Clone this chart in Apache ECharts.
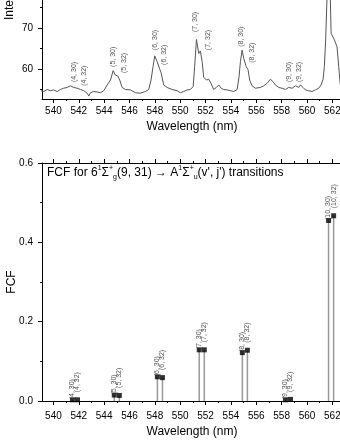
<!doctype html>
<html>
<head>
    <meta charset="utf-8" />
    <script src="https://cdn.jsdelivr.net/npm/echarts@6/dist/echarts.min.js"></script>
    <style>
        html, body { margin: 0; padding: 0; background: #fff; }
        #chart { width: 340px; height: 440px; }
    </style>
</head>
<body>
<div id="chart"></div>
<script>
// spectrum (top panel)
const specWl = [539.0, 539.24, 539.5, 539.76, 540.02, 540.29, 540.55, 540.81, 541.08, 541.34, 541.6, 541.87,
    542.13, 542.39, 542.66, 542.79, 542.92, 543.18, 543.45, 543.71, 543.97, 544.24, 544.5, 544.71, 544.89,
    545.07, 545.23, 545.42, 545.68, 546.07, 546.47, 546.86, 547.26, 547.52, 547.7, 547.86, 547.99, 548.18,
    548.36, 548.49, 548.7, 548.97, 549.36, 549.76, 550.02, 550.28, 550.54, 550.8, 551.02, 551.14, 551.28,
    551.46, 551.59, 551.73, 551.85, 552.07, 552.25, 552.43, 552.64, 552.85, 553.04, 553.23, 553.43, 553.7,
    553.96, 554.22, 554.49, 554.64, 554.75, 554.88, 555.01, 555.2, 555.35, 555.48, 555.67, 555.93, 556.06,
    556.32, 556.59, 556.85, 557.11, 557.32, 557.51, 557.77, 558.04, 558.3, 558.56, 558.82, 559.09, 559.35,
    559.48, 559.69, 559.87, 560.13, 560.4, 560.66, 560.92, 561.11, 561.27, 561.37, 561.47, 561.58, 561.7,
    561.82, 561.9, 562.16, 562.37, 562.5, 562.63, 562.8];
const specI = [54.7, 54.5, 55.0, 54.7, 54.9, 54.5, 55.0, 55.3, 55.5, 55.9, 55.5, 55.3,
    55.0, 54.7, 54.1, 53.4, 54.2, 54.5, 54.4, 54.2, 54.7, 56.1, 57.3, 59.6, 58.5,
    58.3, 57.3, 55.5, 55.0, 54.9, 54.2, 54.1, 54.5, 55.0, 57.3, 60.6, 63.2, 61.8,
    60.2, 59.1, 56.1, 55.5, 55.0, 54.7, 54.2, 54.5, 54.9, 55.0, 55.7, 60.6, 67.2,
    63.8, 64.4, 61.8, 58.0, 57.3, 57.5, 56.5, 55.0, 55.5, 56.1, 55.3, 55.0, 54.9,
    54.7, 54.5, 55.0, 58.1, 61.8, 64.6, 62.6, 60.6, 59.8, 57.3, 55.9, 55.3, 54.9,
    55.5, 55.9, 56.5, 57.5, 56.9, 56.1, 55.5, 55.3, 55.0, 55.5, 55.3, 55.9, 55.5,
    56.1, 55.5, 54.9, 54.7, 54.5, 54.9, 55.3, 56.1, 57.5, 60.6, 67.1, 77.5, 86.0,
    80.0, 68.7, 67.1, 65.4, 60.6, 56.1, 55.5];

// branch labels on the spectrum
const peakNames = ['(4, 30)', '(4, 32)', '(5, 30)', '(5, 32)', '(6, 30)', '(6, 32)',
    '(7, 30)', '(7, 32)', '(8, 30)', '(8, 32)', '(9, 30)', '(9, 32)'];
const peakWl = [541.66, 542.4, 544.7, 545.6, 548.05, 548.75, 551.2, 552.2, 554.8, 555.7, 558.6, 559.4];
const peakI = [56.8, 55.9, 60.5, 59.0, 64.6, 61.0, 69.0, 64.6, 65.4, 61.5, 56.8, 56.8];

// Franck-Condon factors (bottom panel)
const vPrime = [4, 5, 6, 7, 8, 9, 10];
const wl30 = [541.5, 544.8, 548.2, 551.5, 554.9, 558.3, 561.7];
const fcf30 = [0.003, 0.015, 0.061, 0.129, 0.122, 0.003, 0.455];
const wl32 = [541.9, 545.2, 548.6, 551.9, 555.3, 558.7, 562.1];
const fcf32 = [0.003, 0.014, 0.059, 0.129, 0.128, 0.004, 0.467];

// ticks
const wlMajor = [540, 542, 544, 546, 548, 550, 552, 554, 556, 558, 560, 562];
const wlMinor = [539, 541, 543, 545, 547, 549, 551, 553, 555, 557, 559, 561];
const intMajor = [60, 70, 80, 90];
const intMinor = [55, 65, 75, 85];

const FONT = 'Liberation Sans, Arial, sans-serif';
const WL_MIN = 539.1, WL_MAX = 562.76;

function majorX(grid, pos, showLabel, margin) {
    return {
        type: 'value', gridIndex: grid, position: pos, min: WL_MIN, max: WL_MAX,
        axisLine: { show: true, onZero: false, lineStyle: { color: '#000', width: 1 } },
        axisTick: { show: true, customValues: wlMajor, length: 4, lineStyle: { color: '#000' } },
        axisLabel: { show: showLabel, customValues: wlMajor, margin: margin, fontSize: 10, fontFamily: FONT, color: '#000' },
        splitLine: { show: false }
    };
}
function minorX(grid, pos) {
    return {
        type: 'value', gridIndex: grid, position: pos, min: WL_MIN, max: WL_MAX,
        axisLine: { show: false, onZero: false },
        axisTick: { show: true, customValues: wlMinor, length: 2, lineStyle: { color: '#000' } },
        axisLabel: { show: false },
        splitLine: { show: false }
    };
}
function withName(axis, gap) {
    axis.name = 'Wavelength (nm)';
    axis.nameLocation = 'middle';
    axis.nameGap = gap;
    axis.nameMoveOverlap = false;
    axis.nameTextStyle = { fontSize: 12, fontFamily: FONT, color: '#000' };
    return axis;
}

const labelStyle = {
    show: true, rotate: 90, align: 'left', verticalAlign: 'middle',
    fontSize: 7, fontFamily: FONT, color: '#222'
};

let options = {
    animation: false,
    backgroundColor: '#fff',
    grid: [
        { left: 42, top: -60, width: 300, height: 159, outerBoundsMode: 'none', containLabel: false },
        { left: 42, top: 163, width: 300, height: 238, outerBoundsMode: 'none', containLabel: false }
    ],
    xAxis: [
        withName(majorX(0, 'bottom', true, 7), 22),
        minorX(0, 'bottom'),
        withName(majorX(1, 'bottom', true, 10), 25),
        minorX(1, 'bottom'),
        majorX(1, 'top', false, 6),
        minorX(1, 'top')
    ],
    yAxis: [
        {
            type: 'value', gridIndex: 0, position: 'left', min: 52.68, max: 91.46,
            axisLine: { show: true, onZero: false, lineStyle: { color: '#000' } },
            axisTick: { show: true, customValues: intMajor, length: 4, lineStyle: { color: '#000' } },
            axisLabel: { customValues: intMajor, margin: 9, fontSize: 10, fontFamily: FONT, color: '#000' },
            splitLine: { show: false }
        },
        {
            type: 'value', gridIndex: 0, position: 'left', min: 52.68, max: 91.46,
            axisLine: { show: false, onZero: false },
            axisTick: { show: true, customValues: intMinor, length: 2, lineStyle: { color: '#000' } },
            axisLabel: { show: false },
            splitLine: { show: false }
        },
        {
            type: 'value', gridIndex: 1, position: 'left', min: 0, max: 0.6, interval: 0.2,
            name: 'FCF', nameLocation: 'middle', nameGap: 24, nameMoveOverlap: false,
            nameTextStyle: { fontSize: 12, fontFamily: FONT, color: '#000' },
            axisLine: { show: true, onZero: false, lineStyle: { color: '#000' } },
            axisTick: { show: true, length: 4, lineStyle: { color: '#000' } },
            minorTick: { show: true, splitNumber: 2, length: 2, lineStyle: { color: '#000' } },
            axisLabel: { margin: 9, fontSize: 10, fontFamily: FONT, color: '#000', formatter: v => v.toFixed(1) },
            splitLine: { show: false }
        }
    ],
    graphic: [
        {
            type: 'text', x: 10, y: 20, rotation: Math.PI / 2,
            style: { text: 'Intensity (a.u.)', font: '12px ' + FONT, fill: '#000', align: 'left', verticalAlign: 'middle' }
        },
        {
            type: 'text', left: 47, top: 165,
            style: {
                text: '{t|FCF for 6}{sup|1}{t|Σ}{sup|+}{sub|g}{t|(9, 31) → A}{sup|1}{t|Σ}{sup|+}{sub|u}{t|(v\', j\') transitions}',
                fill: '#000',
                rich: {
                    t: { fontSize: 12, fontFamily: FONT, lineHeight: 16, fill: '#000' },
                    sup: { fontSize: 7, fontFamily: FONT, lineHeight: 9, verticalAlign: 'top', fill: '#000' },
                    sub: { fontSize: 7, fontFamily: FONT, lineHeight: 9, verticalAlign: 'bottom', fill: '#000' }
                }
            }
        }
    ],
    series: [
        {
            type: 'line', xAxisIndex: 0, yAxisIndex: 0,
            showSymbol: false, lineStyle: { color: '#555', width: 1 },
            data: specWl.map((w, i) => [w, specI[i]])
        },
        {
            type: 'scatter', xAxisIndex: 0, yAxisIndex: 0, symbolSize: 0,
            label: Object.assign({ position: 'top', distance: 0, formatter: p => peakNames[p.dataIndex] }, labelStyle),
            data: peakWl.map((w, i) => [w, peakI[i]])
        },
        {
            type: 'bar', xAxisIndex: 2, yAxisIndex: 2, barWidth: 1.5, barGap: '-100%',
            itemStyle: { color: '#999' },
            data: wl30.map((w, i) => [w, fcf30[i]])
        },
        {
            type: 'bar', xAxisIndex: 2, yAxisIndex: 2, barWidth: 1.5, barGap: '-100%',
            itemStyle: { color: '#999' },
            data: wl32.map((w, i) => [w, fcf32[i]])
        },
        {
            type: 'scatter', xAxisIndex: 2, yAxisIndex: 2, symbol: 'rect', symbolSize: 5,
            itemStyle: { color: '#000' }, z: 5,
            label: Object.assign({ position: 'top', distance: 2, offset: [-4, 0],
                formatter: p => '(' + vPrime[p.dataIndex] + ', 30)' }, labelStyle),
            data: wl30.map((w, i) => [w, fcf30[i]])
        },
        {
            type: 'scatter', xAxisIndex: 2, yAxisIndex: 2, symbol: 'rect', symbolSize: 5,
            itemStyle: { color: '#000' }, z: 5,
            label: Object.assign({ position: 'top', distance: 2, offset: [3, 0],
                formatter: p => '(' + vPrime[p.dataIndex] + ', 32)' }, labelStyle),
            data: wl32.map((w, i) => [w, fcf32[i]])
        }
    ]
};

var myChart = echarts.init(document.getElementById('chart'));
myChart.setOption(options);
</script>
</body>
</html>
